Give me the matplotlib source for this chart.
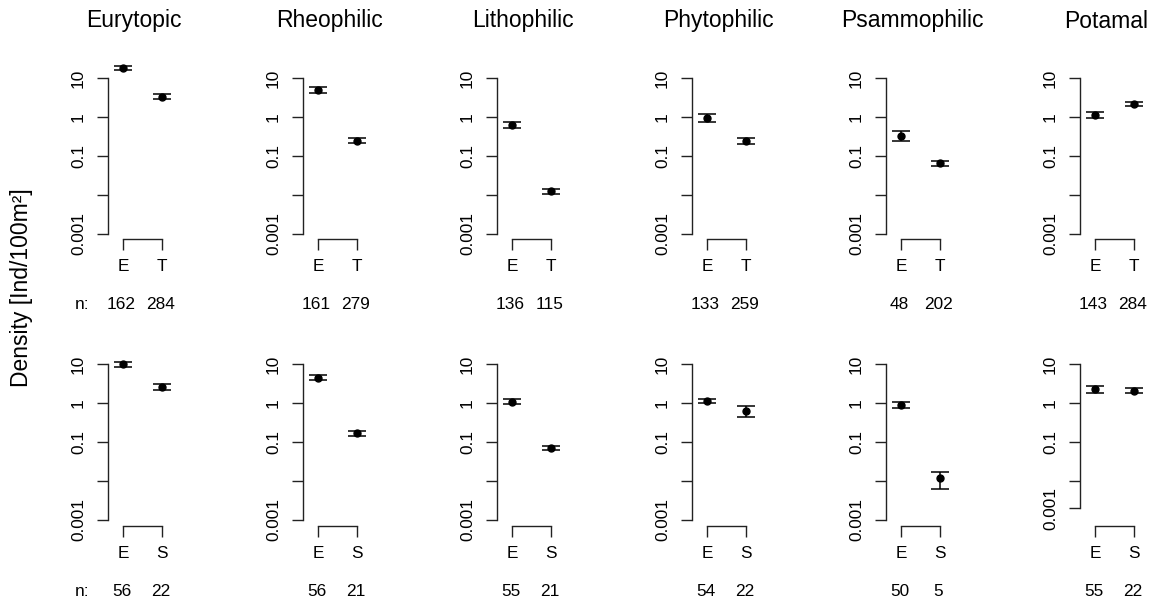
import matplotlib
matplotlib.use('Agg')
import matplotlib.pyplot as plt
from matplotlib.ticker import NullLocator
import numpy as np

plt.rcParams['font.family'] = ['Liberation Sans', 'DejaVu Sans']

# ---------------- data ----------------
categories = ['Eurytopic', 'Rheophilic', 'Lithophilic', 'Phytophilic', 'Psammophilic', 'Potamal']
group_labels_top = ['E', 'T']
group_labels_bottom = ['E', 'S']

# top row (E vs T)
top_E_mean = [18.4, 5.0, 0.63, 0.94, 0.33, 1.15]
top_E_lo = [16.3, 4.3, 0.53, 0.77, 0.245, 0.94]
top_E_hi = [20.7, 5.8, 0.75, 1.19, 0.44, 1.39]
top_T_mean = [3.36, 0.247, 0.0122, 0.247, 0.065, 2.14]
top_T_lo = [2.9, 0.213, 0.0105, 0.207, 0.056, 1.9]
top_T_hi = [3.9, 0.287, 0.0141, 0.295, 0.075, 2.41]
top_n_E = [162, 161, 136, 133, 48, 143]
top_n_T = [284, 279, 115, 259, 202, 284]

# bottom row (E vs S)
bot_E_mean = [10.0, 4.5, 1.1, 1.15, 0.90, 2.29]
bot_E_lo = [8.6, 3.9, 0.95, 1.02, 0.76, 1.88]
bot_E_hi = [11.6, 5.2, 1.28, 1.30, 1.08, 2.69]
bot_S_mean = [2.57, 0.17, 0.070, 0.63, 0.0117, 2.07]
bot_S_lo = [2.15, 0.146, 0.062, 0.45, 0.0063, 1.78]
bot_S_hi = [3.07, 0.197, 0.079, 0.85, 0.0166, 2.40]
bot_n_E = [56, 56, 55, 54, 50, 55]
bot_n_S = [22, 21, 21, 22, 5, 22]

ytick_values = [0.001, 0.01, 0.1, 1, 10]
ytick_values_potamal_bottom = [0.002, 0.01, 0.1, 1, 10]
ytick_labels = ['0.001', '', '0.1', '1', '10']

ylabel = 'Density [Ind/100m\u00b2]'

# ---------------- layout ----------------
W, H = 1161, 605
PT = 72 / 100.0
fig = plt.figure(figsize=(W / 100, H / 100), dpi=100)

spine_px = [108, 303, 497, 692, 886, 1080]
rows = [
    dict(top=55, bottom=239, py10=78.3, dp=38.8),
    dict(top=340, bottom=526, py10=364.3, dp=38.9),
]
unit_px = 39.0
xlim = (1 - 15 / unit_px, 2 + 15 / unit_px)
ax_w = (xlim[1] - xlim[0]) * unit_px
LC = '#222222'
FS = 12.4

data_rows = [
    (top_E_mean, top_E_lo, top_E_hi, top_T_mean, top_T_lo, top_T_hi, top_n_E, top_n_T, group_labels_top),
    (bot_E_mean, bot_E_lo, bot_E_hi, bot_S_mean, bot_S_lo, bot_S_hi, bot_n_E, bot_n_S, group_labels_bottom),
]

for r, row in enumerate(rows):
    m1, l1, h1, m2, l2, h2, n1, n2, glabs = data_rows[r]
    for c in range(6):
        left = spine_px[c]
        ax = fig.add_axes([left / W, 1 - row['bottom'] / H, ax_w / W,
                           (row['bottom'] - row['top']) / H])
        ax.set_yscale('log')
        ax.set_xlim(*xlim)
        ylo = 10 ** (1 - (row['bottom'] - row['py10']) / row['dp'])
        yhi = 10 ** (1 + (row['py10'] - row['top']) / row['dp'])
        ax.set_ylim(ylo, yhi)

        means = np.array([m1[c], m2[c]])
        lows = np.array([l1[c], l2[c]])
        highs = np.array([h1[c], h2[c]])
        ax.errorbar([1, 2], means, yerr=[means - lows, highs - means], fmt='o',
                    color='black', ms=5, capsize=6.8, elinewidth=1.1, capthick=1.1)

        for s in ['top', 'right']:
            ax.spines[s].set_visible(False)
        yt = ytick_values_potamal_bottom if (r == 1 and c == 5) else ytick_values
        ax.spines['left'].set_bounds(yt[0], yt[-1])
        ax.spines['bottom'].set_bounds(1, 2)
        for s in ['left', 'bottom']:
            ax.spines[s].set_linewidth(1.0)
            ax.spines[s].set_color(LC)

        ax.yaxis.set_minor_locator(NullLocator())
        ax.set_yticks(yt)
        ax.set_yticklabels(ytick_labels, rotation=90, va='center', fontsize=FS)
        ax.set_xticks([1, 2])
        ax.set_xticklabels(glabs, fontsize=FS)
        ax.tick_params(axis='both', which='major', length=11 * PT, width=1.0,
                       direction='out', color=LC)
        ax.tick_params(axis='y', pad=8)
        ax.tick_params(axis='x', pad=6.5)
        ax.patch.set_alpha(0)

        for x, n in zip([1, 2], [n1[c], n2[c]]):
            ax.annotate(str(n), xy=(x, 0), xycoords=('data', 'axes fraction'),
                        xytext=(-1.5 * PT, -65 * PT), textcoords='offset points',
                        ha='center', va='center', fontsize=FS, annotation_clip=False)
        if c == 0:
            ax.annotate('n:', xy=(0, 0), xycoords='axes fraction',
                        xytext=(-26 * PT, -65 * PT), textcoords='offset points',
                        ha='center', va='center', fontsize=FS, annotation_clip=False)
        if r == 0:
            fig.text((left + 26) / W, 1 - 21 / H, categories[c], ha='center',
                     va='center', fontsize=16.5)

fig.text(22 / W, 1 - 288 / H, ylabel, rotation=90, ha='center', va='center', fontsize=16.5)

fig.savefig('out.png', dpi=100)
